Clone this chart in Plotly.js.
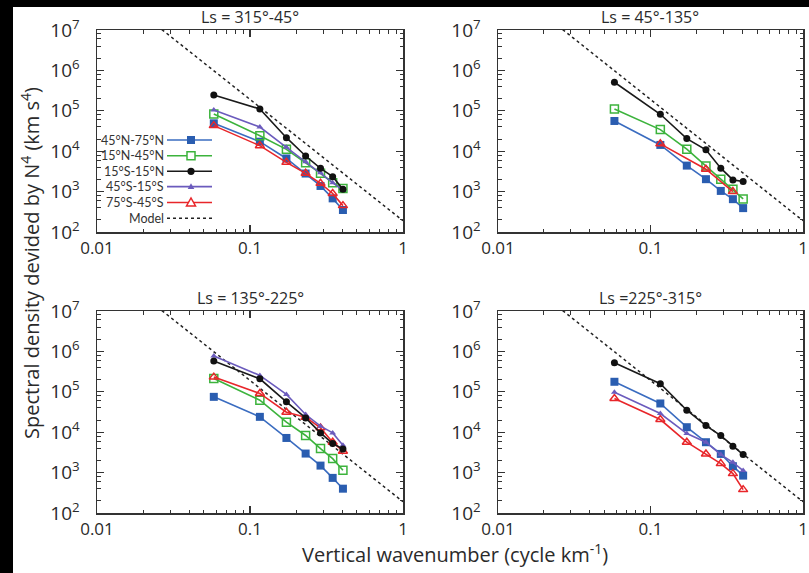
<!DOCTYPE html>
<html>
<head>
<meta charset="utf-8">
<script src="https://cdn.plot.ly/plotly-3.0.1.min.js"></script>
<style>html,body{margin:0;padding:0;background:#fff;}#chart{width:809px;height:573px;}</style>
</head>
<body>
<div id="chart"></div>
<script>
// ---- Data ----
var wavenumber = [0.058, 0.116, 0.173, 0.231, 0.289, 0.347, 0.405];
var seriesNames = ['45°N-75°N', '15°N-45°N', '15°S-15°N', '45°S-15°S', '75°S-45°S'];
var panelTitles = ['Ls = 315°-45°', 'Ls = 45°-135°', 'Ls = 135°-225°', 'Ls =225°-315°'];

// Ls = 315-45
var p1_45N75N = [4.9e4, 1.72e4, 6.6e3, 2.8e3, 1.38e3, 680, 350];
var p1_15N45N = [8.3e4, 2.42e4, 1.11e4, 5.2e3, 2.83e3, 1.66e3, 1.2e3];
var p1_15S15N = [2.46e5, 1.11e5, 2.16e4, 7.6e3, 3.77e3, 2.34e3, 1.14e3];
var p1_45S15S = [1.05e5, 3.97e4, 1.25e4, 5.5e3, 2.94e3, 1.66e3, 1.07e3];
var p1_75S45S = [4.3e4, 1.37e4, 5.3e3, 2.83e3, 1.6e3, 900, 450];

// Ls = 45-135
var p2_45N75N = [5.6e4, 1.43e4, 4.4e3, 2.03e3, 1.04e3, 650, 390];
var p2_15N45N = [1.11e5, 3.43e4, 1.12e4, 4.33e3, 2.03e3, 1.15e3, 660];
var p2_15S15N = [5.08e5, 8.2e4, 2.05e4, 1.08e4, 3.8e3, 1.95e3, 1.77e3];
var p2_45S15S = [null, null, null, null, null, null, null];
var p2_75S45S = [null, 1.52e4, null, 3.58e3, null, 1.0e3, null];

// Ls = 135-225
var p3_45N75N = [7.5e4, 2.4e4, 7.2e3, 2.96e3, 1.49e3, 740, 400];
var p3_15N45N = [2.14e5, 6.2e4, 1.77e4, 8.3e3, 3.94e3, 2.22e3, 1.14e3];
var p3_15S15N = [5.75e5, 2.1e5, 5.65e4, 2.26e4, 9.6e3, 5.24e3, 3.86e3];
var p3_45S15S = [7.66e5, 2.54e5, 8.6e4, 2.74e4, 1.41e4, 9.6e3, 4.76e3];
var p3_75S45S = [2.31e5, 9.1e4, 3.13e4, 2.36e4, 1.28e4, 5.65e3, 3.38e3];

// Ls = 225-315
var p4_45N75N = [1.77e5, 5.14e4, 1.33e4, 5.65e3, 2.9e3, 1.44e3, 843];
var p4_15N45N = [null, null, null, null, null, null, null];
var p4_15S15N = [5.24e5, 1.58e5, 3.5e4, 1.46e4, 8.26e3, 4.5e3, 2.79e3];
var p4_45S15S = [9.8e4, 2.9e4, 9.27e3, 5.65e3, 2.79e3, 1.8e3, 1.12e3];
var p4_75S45S = [6.84e4, 2.06e4, 5.65e3, 2.9e3, 1.67e3, 944, 379];

// Model line (k^-3), endpoints
var modelX = [0.02, 1.0];
var modelY = [2.4e7, 190];

var xTickVals = [0.01, 0.1, 1];
var xTickText = ['0.01', '0.1', '1'];
var yTickVals = [1e2, 1e3, 1e4, 1e5, 1e6, 1e7];
var yTickText = ['10<sup>2</sup>', '10<sup>3</sup>', '10<sup>4</sup>', '10<sup>5</sup>', '10<sup>6</sup>', '10<sup>7</sup>'];

// ---- Styles ----
var W = 809, H = 573;
var FONT = 'Open Sans, Noto Sans, sans-serif';
var LFONT = 'Lato, Open Sans, sans-serif';
var TXT = '#2a2a2a';
var styles = [
  {color: '#2a5db0', symbol: 'square', size: 8, lineColor: '#3a6cc0'},
  {color: '#3cb33c', symbol: 'square-open', size: 8, lineColor: '#3cb33c'},
  {color: '#111111', symbol: 'circle', size: 7, lineColor: '#1a1a1a'},
  {color: '#6b5bbd', symbol: 'triangle-up', size: 6, lineColor: '#6b5bbd'},
  {color: '#e8262a', symbol: 'triangle-up-open', size: 8, lineColor: '#e8262a'}
];
var panels = [
  [p1_45N75N, p1_15N45N, p1_15S15N, p1_45S15S, p1_75S45S],
  [p2_45N75N, p2_15N45N, p2_15S15N, p2_45S15S, p2_75S45S],
  [p3_45N75N, p3_15N45N, p3_15S15N, p3_45S15S, p3_75S45S],
  [p4_45N75N, p4_15N45N, p4_15S15N, p4_45S15S, p4_75S45S]
];
var axSuffix = ['', '2', '3', '4'];

var traces = [];
panels.forEach(function (series, pi) {
  traces.push({
    x: modelX, y: modelY, mode: 'lines', type: 'scatter',
    line: {color: '#222', width: 1.5, dash: '3px,3px'},
    xaxis: 'x' + axSuffix[pi], yaxis: 'y' + axSuffix[pi],
    showlegend: false, hoverinfo: 'skip', cliponaxis: true
  });
  [0, 1, 4, 3, 2].forEach(function (si) {
    var s = styles[si];
    traces.push({
      x: wavenumber, y: series[si], type: 'scatter', mode: 'lines+markers',
      name: seriesNames[si], connectgaps: true,
      line: {color: s.lineColor, width: 1.6},
      marker: {symbol: s.symbol, size: s.size, color: s.color,
               line: {color: s.color, width: s.symbol.indexOf('open') >= 0 ? 1.5 : 0}},
      xaxis: 'x' + axSuffix[pi], yaxis: 'y' + axSuffix[pi], showlegend: false, cliponaxis: false
    });
  });
});

// minor ticks
var xMinor = [], yMinor = [];
[0.01, 0.1].forEach(function (d) { for (var k = 2; k <= 9; k++) xMinor.push(d * k); });
[1e2, 1e3, 1e4, 1e5, 1e6].forEach(function (d) { [2, 4, 6, 8].forEach(function (k) { yMinor.push(d * k); }); });

function xax(domain, anchor) {
  return {
    type: 'log', range: [-2, 0], domain: domain, anchor: anchor,
    showline: true, linecolor: '#333', linewidth: 1.5, mirror: 'ticks',
    ticks: 'inside', ticklen: 7, tickwidth: 1.2, tickcolor: '#333',
    tickmode: 'array', tickvals: xTickVals, ticktext: xTickText,
    tickfont: {family: FONT, size: 17, color: TXT},
    minor: {ticks: 'inside', ticklen: 3.5, tickwidth: 1, tickcolor: '#333', tickmode: 'array', tickvals: xMinor, showgrid: false},
    showgrid: false, zeroline: false, fixedrange: true
  };
}
function yax(domain, anchor) {
  return {
    type: 'log', range: [2, 7], domain: domain, anchor: anchor,
    showline: true, linecolor: '#333', linewidth: 1.5, mirror: 'ticks',
    ticks: 'inside', ticklen: 7, tickwidth: 1.2, tickcolor: '#333',
    tickmode: 'array', tickvals: yTickVals, ticktext: yTickText,
    tickfont: {family: FONT, size: 19, color: TXT}, ticklabelstandoff: 12,
    minor: {ticks: 'inside', ticklen: 3.5, tickwidth: 1, tickcolor: '#333', tickmode: 'array', tickvals: yMinor, showgrid: false},
    showgrid: false, zeroline: false, fixedrange: true
  };
}
function px(x) { return x / W; }
function py(y) { return 1 - y / H; }

var xL = [px(97), px(403)], xR = [px(498), px(803)];
var yT = [py(232), py(30)], yB = [py(513), py(311)];

var annotations = [];
var titlePos = [[250, 17], [650, 17], [250, 298], [650, 298]];
panelTitles.forEach(function (t, i) {
  annotations.push({text: t, xref: 'paper', yref: 'paper', x: px(titlePos[i][0]), y: py(titlePos[i][1]),
    xanchor: 'center', yanchor: 'middle', showarrow: false, font: {family: FONT, size: 16, color: TXT}});
});
annotations.push({text: 'Spectral density devided by N<sup>4</sup> (km s<sup>4</sup>)', xref: 'paper', yref: 'paper',
  x: px(30), y: py(263), textangle: -90, xanchor: 'center', yanchor: 'middle', showarrow: false,
  font: {family: FONT, size: 20, color: TXT}});
annotations.push({text: 'Vertical wavenumber (cycle km<sup>-1</sup>)', xref: 'paper', yref: 'paper',
  x: px(455), y: py(553), xanchor: 'center', yanchor: 'middle', showarrow: false,
  font: {family: FONT, size: 20, color: TXT}});

// Custom legend (text left, symbol right) in first panel
var shapes = [
  {type: 'rect', xref: 'paper', yref: 'paper', x0: 0, x1: 1, y0: py(7), y1: 1, fillcolor: '#000', line: {width: 0}, layer: 'above'},
  {type: 'rect', xref: 'paper', yref: 'paper', x0: 0, x1: px(13), y0: 0, y1: 1, fillcolor: '#000', line: {width: 0}, layer: 'above'}
];
var legRows = [140, 155.8, 171.3, 186.6, 202.5, 218.3];
var legX0 = 167, legX1 = 212, legM = 191;
var legLabels = seriesNames.concat(['Model']);
legLabels.forEach(function (lab, i) {
  var yy = legRows[i];
  annotations.push({text: lab, xref: 'paper', yref: 'paper', x: px(legX0 - 1), y: py(yy),
    xanchor: 'right', yanchor: 'middle', showarrow: false, font: {family: LFONT, size: 12.5, color: '#333'}});
  if (i === 5) {
    shapes.push({type: 'line', xref: 'paper', yref: 'paper', x0: px(legX0), x1: px(legX1), y0: py(yy), y1: py(yy),
      line: {color: '#222', width: 1.5, dash: '3px,3px'}});
    return;
  }
  var s = styles[i];
  shapes.push({type: 'line', xref: 'paper', yref: 'paper', x0: px(legX0), x1: px(legX1), y0: py(yy), y1: py(yy),
    line: {color: s.lineColor, width: 1.6}});
  var h;
  if (s.symbol === 'square' || s.symbol === 'square-open') {
    h = 4;
    shapes.push({type: 'rect', xref: 'paper', yref: 'paper', x0: px(legM - h), x1: px(legM + h), y0: py(yy + h), y1: py(yy - h),
      fillcolor: s.symbol === 'square' ? s.color : '#fff', line: {color: s.color, width: s.symbol === 'square' ? 0 : 1.5}});
  } else if (s.symbol === 'circle') {
    h = 3.6;
    shapes.push({type: 'circle', xref: 'paper', yref: 'paper', x0: px(legM - h), x1: px(legM + h), y0: py(yy + h), y1: py(yy - h),
      fillcolor: s.color, line: {width: 0}});
  } else {
    h = s.symbol === 'triangle-up' ? 3.3 : 4.5;
    var path = 'M' + px(legM - h) + ',' + py(yy + h * 0.75) + ' L' + px(legM + h) + ',' + py(yy + h * 0.75) +
               ' L' + px(legM) + ',' + py(yy - h) + ' Z';
    shapes.push({type: 'path', xref: 'paper', yref: 'paper', path: path,
      fillcolor: s.symbol === 'triangle-up' ? s.color : '#fff', line: {color: s.color, width: s.symbol === 'triangle-up' ? 0 : 1.5}});
  }
});

var layout = {
  width: W, height: H, margin: {l: 0, r: 0, t: 0, b: 0},
  paper_bgcolor: '#fff', plot_bgcolor: '#fff', showlegend: false,
  font: {family: FONT, color: TXT},
  xaxis: xax(xL, 'y'), yaxis: yax(yT, 'x'),
  xaxis2: xax(xR, 'y2'), yaxis2: yax(yT, 'x2'),
  xaxis3: xax(xL, 'y3'), yaxis3: yax(yB, 'x3'),
  xaxis4: xax(xR, 'y4'), yaxis4: yax(yB, 'x4'),
  annotations: annotations, shapes: shapes
};

Plotly.newPlot('chart', traces, layout, {displayModeBar: false, staticPlot: true});
</script>
</body>
</html>
